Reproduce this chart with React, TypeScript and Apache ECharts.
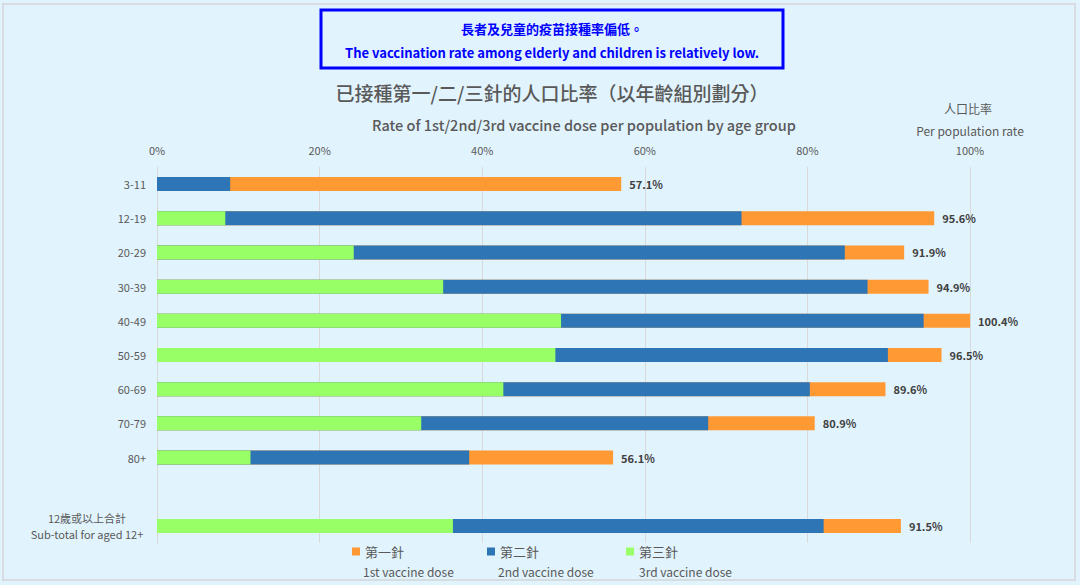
import React, { useEffect, useRef } from 'react';
import * as echarts from 'echarts';

// 年齡組別
const categories = ['3-11', '12-19', '20-29', '30-39', '40-49', '50-59', '60-69', '70-79', '80+', '', '12歲或以上合計\nSub-total for aged 12+'];
// 各劑次接種比率 (%)
const firstDose = [57.1, 95.6, 91.9, 94.9, 100.4, 96.5, 89.6, 80.9, 56.1, null, 91.5];
const secondDose = [9.0, 71.9, 84.6, 87.4, 94.3, 89.9, 80.3, 67.8, 38.4, null, 82.0];
const thirdDose = [null, 8.4, 24.2, 35.2, 49.7, 49.0, 42.6, 32.5, 11.5, null, 36.4];
const xTicks = [0, 20, 40, 60, 80, 100];

const FONT = "'Noto Sans CJK TC', 'Noto Sans', sans-serif";
const GREY = '#595959';

const App: React.FC = () => {
  const chartRef = useRef<HTMLDivElement>(null);

  useEffect(() => {
    if (!chartRef.current) return;
    const chart = echarts.init(chartRef.current, null, { renderer: 'svg' });

    const legendItem = (name: string, left: number) => ({
      data: [name],
      left,
      top: 545,
      padding: 0,
      itemWidth: 8,
      itemHeight: 8,
      icon: 'rect',
      selectedMode: false,
      textStyle: { color: GREY, fontSize: 13, fontFamily: FONT }
    });

    const option = {
      animation: false,
      backgroundColor: '#E1F3FD',
      textStyle: { fontFamily: FONT },
      graphic: [
        {
          type: 'rect',
          shape: { x: 3, y: 4, width: 1072, height: 576 },
          style: { fill: 'none', stroke: '#D6DCE0', lineWidth: 2 },
          silent: true
        },
        {
          type: 'rect',
          shape: { x: 321, y: 10, width: 462, height: 58 },
          style: { fill: 'none', stroke: '#0000FF', lineWidth: 3 },
          silent: true
        },
        {
          type: 'text',
          x: 552,
          y: 28,
          style: { text: '長者及兒童的疫苗接種率偏低。', fill: '#0000FF', font: `bold 13px ${FONT}`, align: 'center', verticalAlign: 'middle' }
        },
        {
          type: 'text',
          x: 552,
          y: 52,
          style: { text: 'The vaccination rate among elderly and children is relatively low.', fill: '#0000FF', font: `bold 13px ${FONT}`, align: 'center', verticalAlign: 'middle' }
        },
        {
          type: 'text',
          x: 552,
          y: 92,
          style: { text: '已接種第一/二/三針的人口比率（以年齡組別劃分）', fill: GREY, font: `500 19px ${FONT}`, align: 'center', verticalAlign: 'middle' }
        },
        {
          type: 'text',
          x: 584,
          y: 124,
          style: { text: 'Rate of 1st/2nd/3rd vaccine dose per population by age group', fill: GREY, font: `500 14.5px ${FONT}`, align: 'center', verticalAlign: 'middle' }
        },
        {
          type: 'text',
          x: 968,
          y: 108,
          style: { text: '人口比率', fill: GREY, font: `12px ${FONT}`, align: 'center', verticalAlign: 'middle' }
        },
        {
          type: 'text',
          x: 970,
          y: 130,
          style: { text: 'Per population rate', fill: GREY, font: `12px ${FONT}`, align: 'center', verticalAlign: 'middle' }
        },
        {
          type: 'text',
          x: 363,
          y: 571,
          style: { text: '1st vaccine dose', fill: GREY, font: `12px ${FONT}`, verticalAlign: 'middle' }
        },
        {
          type: 'text',
          x: 498,
          y: 571,
          style: { text: '2nd vaccine dose', fill: GREY, font: `12px ${FONT}`, verticalAlign: 'middle' }
        },
        {
          type: 'text',
          x: 639,
          y: 571,
          style: { text: '3rd vaccine dose', fill: GREY, font: `12px ${FONT}`, verticalAlign: 'middle' }
        }
      ],
      legend: [legendItem('第一針', 352), legendItem('第二針', 487), legendItem('第三針', 626)],
      grid: {
        left: 157,
        right: 110,
        top: 167,
        bottom: 42
      },
      xAxis: {
        type: 'value',
        position: 'top',
        min: xTicks[0],
        max: xTicks[xTicks.length - 1],
        interval: 20,
        axisLine: { show: false },
        axisTick: { show: false },
        axisLabel: {
          color: GREY,
          fontSize: 11,
          margin: 12,
          formatter: '{value}%'
        },
        splitLine: {
          lineStyle: { color: '#D9D9D9' }
        }
      },
      yAxis: {
        type: 'category',
        inverse: true,
        data: categories,
        axisLine: { lineStyle: { color: '#D9D9D9' } },
        axisTick: { length: 4, lineStyle: { color: '#D9D9D9' } },
        axisLabel: {
          color: GREY,
          fontSize: 11,
          margin: 11,
          formatter: (v: string) => (v.includes('\n') ? v.split('\n').map(s => `{t|${s}}`).join('\n') : v),
          rich: {
            t: { width: 118, align: 'center', color: GREY, fontSize: 11, lineHeight: 16 }
          }
        }
      },
      series: [
        {
          name: '第一針',
          type: 'bar',
          data: firstDose,
          barWidth: 14,
          barGap: '-100%',
          itemStyle: { color: '#FF9933' },
          label: {
            show: true,
            position: 'right',
            distance: 8,
            color: '#404040',
            fontSize: 11,
            fontWeight: 'bold',
            formatter: (p: any) => `${Number(p.value).toFixed(1)}%`
          }
        },
        {
          name: '第二針',
          type: 'bar',
          data: secondDose,
          barWidth: 14,
          barGap: '-100%',
          itemStyle: { color: '#2E75B6' }
        },
        {
          name: '第三針',
          type: 'bar',
          data: thirdDose,
          barWidth: 14,
          barGap: '-100%',
          itemStyle: { color: '#99FF66' }
        }
      ]
    };

    chart.setOption(option);

    const handleResize = () => chart.resize();
    window.addEventListener('resize', handleResize);
    return () => {
      window.removeEventListener('resize', handleResize);
      chart.dispose();
    };
  }, []);

  return (
    <div style={{ position: 'fixed', left: 0, top: 0, width: 1080, height: 585 }}>
      <div ref={chartRef} style={{ width: 1080, height: 585 }}></div>
    </div>
  );
};

export default App;
